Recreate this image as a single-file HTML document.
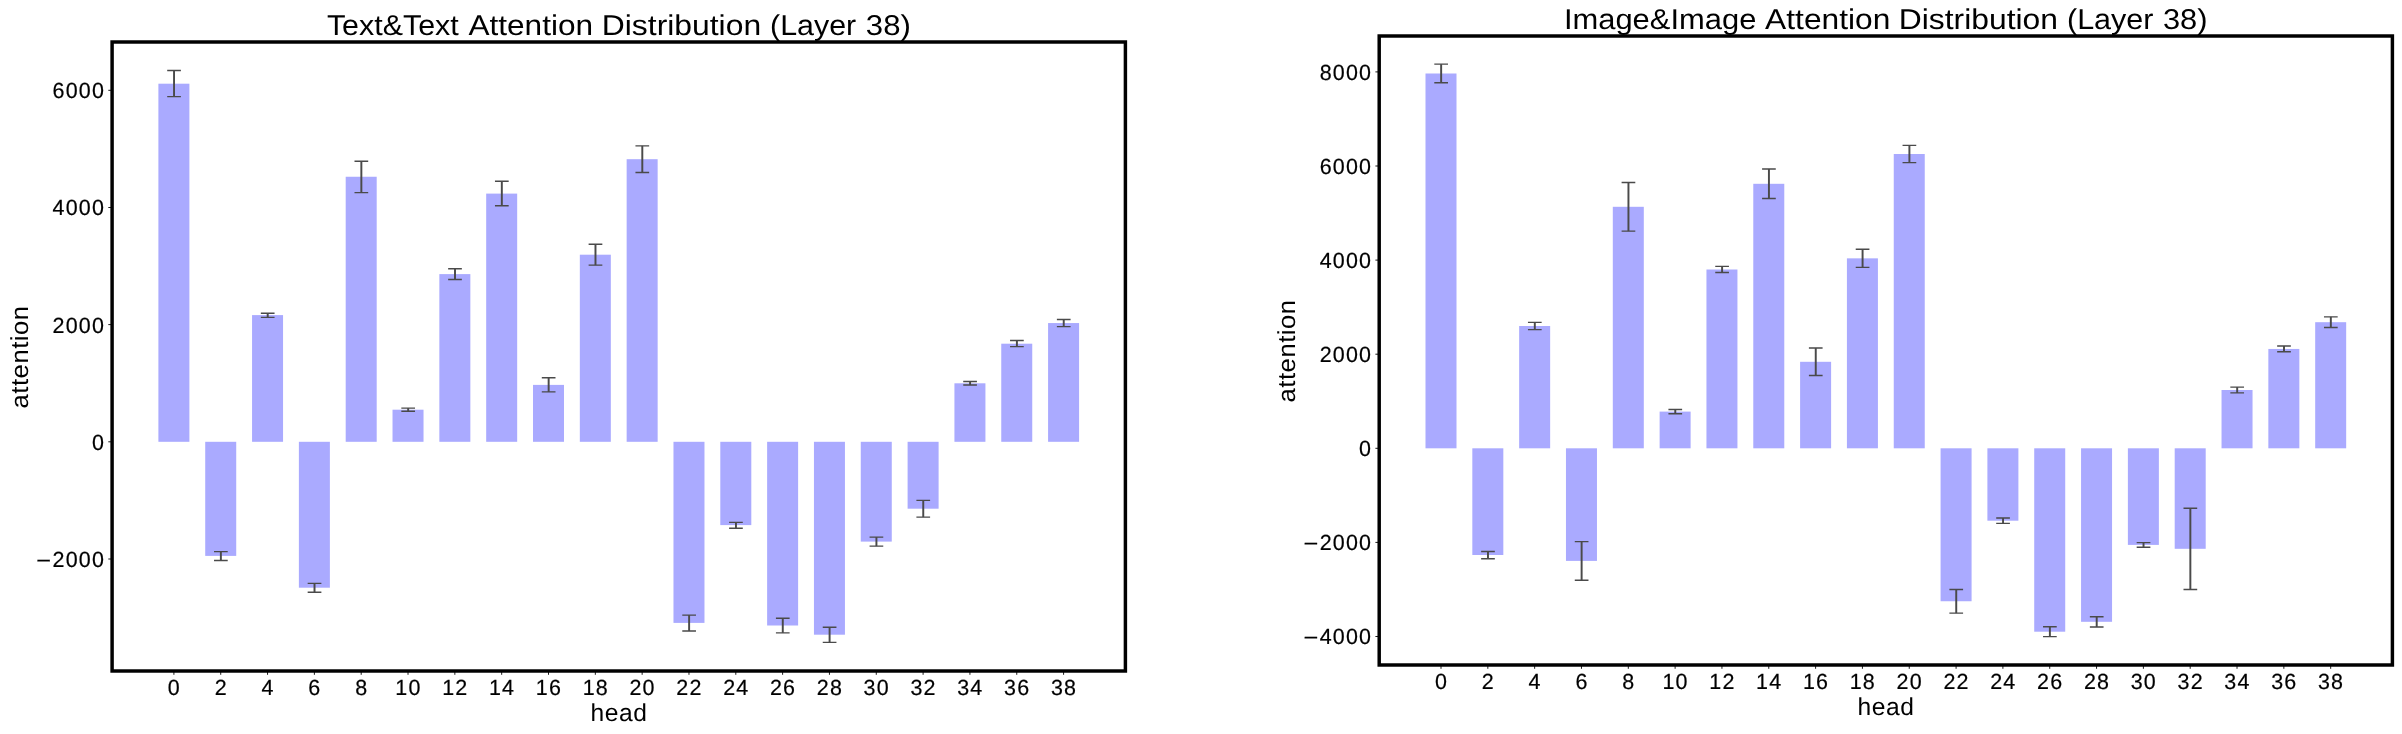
<!DOCTYPE html>
<html lang="en">
<head>
<meta charset="utf-8">
<title>Attention Distribution (Layer 38)</title>
<style>
html,body{margin:0;padding:0;background:#fff;}
body{width:2402px;height:734px;overflow:hidden;}
svg{display:block;will-change:transform;}
text{font-family:"Liberation Sans",sans-serif;fill:#000;text-rendering:geometricPrecision;}
.dg text{stroke:#000;stroke-width:0.2px;}
.bar{fill:#aaaaff;}
.el{stroke:#4a4a4a;stroke-width:1.95;fill:none;}
.cap{stroke:#4a4a4a;stroke-width:1.39;fill:none;}
.frame{fill:none;stroke:#000;stroke-width:3.47;stroke-linejoin:miter;}
.tick{stroke:#000;stroke-width:0.9;}
</style>
</head>
<body>
<svg width="2402" height="734" viewBox="0 0 2402 734">
<rect x="0" y="0" width="2402" height="734" fill="#ffffff"/>
<g id="plot0">
<rect class="bar" x="158.4" y="83.7" width="31" height="358.1"/>
<rect class="bar" x="205.22" y="441.8" width="31" height="114.1"/>
<rect class="bar" x="252.05" y="315.1" width="31" height="126.7"/>
<rect class="bar" x="298.88" y="441.8" width="31" height="145.9"/>
<rect class="bar" x="345.7" y="176.75" width="31" height="265.05"/>
<rect class="bar" x="392.52" y="409.7" width="31" height="32.1"/>
<rect class="bar" x="439.35" y="274.1" width="31" height="167.7"/>
<rect class="bar" x="486.18" y="193.6" width="31" height="248.2"/>
<rect class="bar" x="533" y="384.9" width="31" height="56.9"/>
<rect class="bar" x="579.83" y="254.7" width="31" height="187.1"/>
<rect class="bar" x="626.65" y="159.2" width="31" height="282.6"/>
<rect class="bar" x="673.48" y="441.8" width="31" height="181.1"/>
<rect class="bar" x="720.3" y="441.8" width="31" height="83.3"/>
<rect class="bar" x="767.12" y="441.8" width="31" height="183.7"/>
<rect class="bar" x="813.95" y="441.8" width="31" height="192.9"/>
<rect class="bar" x="860.77" y="441.8" width="31" height="99.8"/>
<rect class="bar" x="907.6" y="441.8" width="31" height="66.9"/>
<rect class="bar" x="954.43" y="383.3" width="31" height="58.5"/>
<rect class="bar" x="1001.25" y="343.7" width="31" height="98.1"/>
<rect class="bar" x="1048.08" y="323.05" width="31" height="118.75"/>
<path class="el" d="M174.05 70.5V96.6"/><path class="cap" d="M167.2 70.5H180.9M167.2 96.6H180.9"/>
<path class="el" d="M220.87 551.65V560.5"/><path class="cap" d="M214.02 551.65H227.72M214.02 560.5H227.72"/>
<path class="el" d="M267.7 313.3V317.4"/><path class="cap" d="M260.85 313.3H274.55M260.85 317.4H274.55"/>
<path class="el" d="M314.52 583.4V592.3"/><path class="cap" d="M307.67 583.4H321.38M307.67 592.3H321.38"/>
<path class="el" d="M361.35 161.3V192.6"/><path class="cap" d="M354.5 161.3H368.2M354.5 192.6H368.2"/>
<path class="el" d="M408.17 408.1V411.3"/><path class="cap" d="M401.32 408.1H415.02M401.32 411.3H415.02"/>
<path class="el" d="M455 268.7V279.5"/><path class="cap" d="M448.15 268.7H461.85M448.15 279.5H461.85"/>
<path class="el" d="M501.82 181.3V205.8"/><path class="cap" d="M494.97 181.3H508.68M494.97 205.8H508.68"/>
<path class="el" d="M548.65 377.7V391.9"/><path class="cap" d="M541.8 377.7H555.5M541.8 391.9H555.5"/>
<path class="el" d="M595.48 244.3V265.1"/><path class="cap" d="M588.62 244.3H602.33M588.62 265.1H602.33"/>
<path class="el" d="M642.3 145.9V172.5"/><path class="cap" d="M635.45 145.9H649.15M635.45 172.5H649.15"/>
<path class="el" d="M689.12 615.1V631"/><path class="cap" d="M682.27 615.1H695.98M682.27 631H695.98"/>
<path class="el" d="M735.95 522.4V528.2"/><path class="cap" d="M729.1 522.4H742.8M729.1 528.2H742.8"/>
<path class="el" d="M782.77 618.2V632.9"/><path class="cap" d="M775.92 618.2H789.62M775.92 632.9H789.62"/>
<path class="el" d="M829.6 627.2V642.4"/><path class="cap" d="M822.75 627.2H836.45M822.75 642.4H836.45"/>
<path class="el" d="M876.42 537.1V546.1"/><path class="cap" d="M869.57 537.1H883.27M869.57 546.1H883.27"/>
<path class="el" d="M923.25 500.4V517.1"/><path class="cap" d="M916.4 500.4H930.1M916.4 517.1H930.1"/>
<path class="el" d="M970.08 381.5V385"/><path class="cap" d="M963.23 381.5H976.93M963.23 385H976.93"/>
<path class="el" d="M1016.9 340.5V346.65"/><path class="cap" d="M1010.05 340.5H1023.75M1010.05 346.65H1023.75"/>
<path class="el" d="M1063.73 319.5V326.6"/><path class="cap" d="M1056.88 319.5H1070.58M1056.88 326.6H1070.58"/>
<path class="tick" d="M173.9 671v3.8"/><path class="tick" d="M220.72 671v3.8"/><path class="tick" d="M267.55 671v3.8"/><path class="tick" d="M314.38 671v3.8"/><path class="tick" d="M361.2 671v3.8"/><path class="tick" d="M408.02 671v3.8"/><path class="tick" d="M454.85 671v3.8"/><path class="tick" d="M501.68 671v3.8"/><path class="tick" d="M548.5 671v3.8"/><path class="tick" d="M595.33 671v3.8"/><path class="tick" d="M642.15 671v3.8"/><path class="tick" d="M688.98 671v3.8"/><path class="tick" d="M735.8 671v3.8"/><path class="tick" d="M782.62 671v3.8"/><path class="tick" d="M829.45 671v3.8"/><path class="tick" d="M876.27 671v3.8"/><path class="tick" d="M923.1 671v3.8"/><path class="tick" d="M969.93 671v3.8"/><path class="tick" d="M1016.75 671v3.8"/><path class="tick" d="M1063.58 671v3.8"/>
<path class="tick" d="M112.1 90.3h-3.8"/><path class="tick" d="M112.1 207.5h-3.8"/><path class="tick" d="M112.1 324.6h-3.8"/><path class="tick" d="M112.1 441.8h-3.8"/><path class="tick" d="M112.1 559h-3.8"/>
<rect class="frame" x="112.1" y="42" width="1013.3" height="629"/>
</g>
<g id="plot1">
<rect class="bar" x="1425.5" y="73.5" width="31" height="374.8"/>
<rect class="bar" x="1472.33" y="448.3" width="31" height="106.7"/>
<rect class="bar" x="1519.15" y="326" width="31" height="122.3"/>
<rect class="bar" x="1565.97" y="448.3" width="31" height="112.6"/>
<rect class="bar" x="1612.8" y="206.8" width="31" height="241.5"/>
<rect class="bar" x="1659.62" y="411.6" width="31" height="36.7"/>
<rect class="bar" x="1706.45" y="269.5" width="31" height="178.8"/>
<rect class="bar" x="1753.28" y="183.8" width="31" height="264.5"/>
<rect class="bar" x="1800.1" y="361.8" width="31" height="86.5"/>
<rect class="bar" x="1846.92" y="258.35" width="31" height="189.95"/>
<rect class="bar" x="1893.75" y="154" width="31" height="294.3"/>
<rect class="bar" x="1940.58" y="448.3" width="31" height="152.95"/>
<rect class="bar" x="1987.4" y="448.3" width="31" height="72.4"/>
<rect class="bar" x="2034.22" y="448.3" width="31" height="183.4"/>
<rect class="bar" x="2081.05" y="448.3" width="31" height="173.5"/>
<rect class="bar" x="2127.88" y="448.3" width="31" height="96.6"/>
<rect class="bar" x="2174.7" y="448.3" width="31" height="100.5"/>
<rect class="bar" x="2221.53" y="390" width="31" height="58.3"/>
<rect class="bar" x="2268.35" y="348.95" width="31" height="99.35"/>
<rect class="bar" x="2315.18" y="322.2" width="31" height="126.1"/>
<path class="el" d="M1441.15 64.15V82.7"/><path class="cap" d="M1434.3 64.15H1448M1434.3 82.7H1448"/>
<path class="el" d="M1487.98 551.5V558.7"/><path class="cap" d="M1481.13 551.5H1494.83M1481.13 558.7H1494.83"/>
<path class="el" d="M1534.8 322.4V329.6"/><path class="cap" d="M1527.95 322.4H1541.65M1527.95 329.6H1541.65"/>
<path class="el" d="M1581.62 541.65V580.3"/><path class="cap" d="M1574.78 541.65H1588.47M1574.78 580.3H1588.47"/>
<path class="el" d="M1628.45 182.45V231.1"/><path class="cap" d="M1621.6 182.45H1635.3M1621.6 231.1H1635.3"/>
<path class="el" d="M1675.28 409.5V413.7"/><path class="cap" d="M1668.43 409.5H1682.12M1668.43 413.7H1682.12"/>
<path class="el" d="M1722.1 266.35V272.55"/><path class="cap" d="M1715.25 266.35H1728.95M1715.25 272.55H1728.95"/>
<path class="el" d="M1768.93 169V198.5"/><path class="cap" d="M1762.08 169H1775.78M1762.08 198.5H1775.78"/>
<path class="el" d="M1815.75 348.05V375.5"/><path class="cap" d="M1808.9 348.05H1822.6M1808.9 375.5H1822.6"/>
<path class="el" d="M1862.58 249.3V267.35"/><path class="cap" d="M1855.73 249.3H1869.42M1855.73 267.35H1869.42"/>
<path class="el" d="M1909.4 145.4V162.65"/><path class="cap" d="M1902.55 145.4H1916.25M1902.55 162.65H1916.25"/>
<path class="el" d="M1956.23 589.5V613.1"/><path class="cap" d="M1949.38 589.5H1963.08M1949.38 613.1H1963.08"/>
<path class="el" d="M2003.05 518V523.4"/><path class="cap" d="M1996.2 518H2009.9M1996.2 523.4H2009.9"/>
<path class="el" d="M2049.88 626.8V636.6"/><path class="cap" d="M2043.03 626.8H2056.72M2043.03 636.6H2056.72"/>
<path class="el" d="M2096.7 616.75V626.95"/><path class="cap" d="M2089.85 616.75H2103.55M2089.85 626.95H2103.55"/>
<path class="el" d="M2143.53 542.65V547.25"/><path class="cap" d="M2136.68 542.65H2150.38M2136.68 547.25H2150.38"/>
<path class="el" d="M2190.35 508.2V589.5"/><path class="cap" d="M2183.5 508.2H2197.2M2183.5 589.5H2197.2"/>
<path class="el" d="M2237.18 387.1V392.9"/><path class="cap" d="M2230.33 387.1H2244.03M2230.33 392.9H2244.03"/>
<path class="el" d="M2284 346V351.8"/><path class="cap" d="M2277.15 346H2290.85M2277.15 351.8H2290.85"/>
<path class="el" d="M2330.83 316.85V327.5"/><path class="cap" d="M2323.98 316.85H2337.68M2323.98 327.5H2337.68"/>
<path class="tick" d="M1441 665v3.8"/><path class="tick" d="M1487.83 665v3.8"/><path class="tick" d="M1534.65 665v3.8"/><path class="tick" d="M1581.47 665v3.8"/><path class="tick" d="M1628.3 665v3.8"/><path class="tick" d="M1675.12 665v3.8"/><path class="tick" d="M1721.95 665v3.8"/><path class="tick" d="M1768.78 665v3.8"/><path class="tick" d="M1815.6 665v3.8"/><path class="tick" d="M1862.42 665v3.8"/><path class="tick" d="M1909.25 665v3.8"/><path class="tick" d="M1956.08 665v3.8"/><path class="tick" d="M2002.9 665v3.8"/><path class="tick" d="M2049.72 665v3.8"/><path class="tick" d="M2096.55 665v3.8"/><path class="tick" d="M2143.38 665v3.8"/><path class="tick" d="M2190.2 665v3.8"/><path class="tick" d="M2237.03 665v3.8"/><path class="tick" d="M2283.85 665v3.8"/><path class="tick" d="M2330.68 665v3.8"/>
<path class="tick" d="M1379.2 71.9h-3.8"/><path class="tick" d="M1379.2 166h-3.8"/><path class="tick" d="M1379.2 260.1h-3.8"/><path class="tick" d="M1379.2 354.2h-3.8"/><path class="tick" d="M1379.2 448.3h-3.8"/><path class="tick" d="M1379.2 542.4h-3.8"/><path class="tick" d="M1379.2 636.5h-3.8"/>
<rect class="frame" x="1379.2" y="36" width="1013.2" height="629"/>
</g>
<g id="labels">
<g id="xt0" class="dg">
<text transform="translate(167.86 694.55) scale(0.98 1)" font-size="21.9" letter-spacing="1.19">0</text>
<text transform="translate(214.68 694.55) scale(0.98 1)" font-size="21.9" letter-spacing="1.19">2</text>
<text transform="translate(261.51 694.55) scale(0.98 1)" font-size="21.9" letter-spacing="1.19">4</text>
<text transform="translate(308.33 694.55) scale(0.98 1)" font-size="21.9" letter-spacing="1.19">6</text>
<text transform="translate(355.16 694.55) scale(0.98 1)" font-size="21.9" letter-spacing="1.19">8</text>
<text transform="translate(395.36 694.55) scale(0.98 1)" font-size="21.9" letter-spacing="1.19">10</text>
<text transform="translate(442.18 694.55) scale(0.98 1)" font-size="21.9" letter-spacing="1.19">12</text>
<text transform="translate(489.01 694.55) scale(0.98 1)" font-size="21.9" letter-spacing="1.19">14</text>
<text transform="translate(535.83 694.55) scale(0.98 1)" font-size="21.9" letter-spacing="1.19">16</text>
<text transform="translate(582.66 694.55) scale(0.98 1)" font-size="21.9" letter-spacing="1.19">18</text>
<text transform="translate(629.48 694.55) scale(0.98 1)" font-size="21.9" letter-spacing="1.19">20</text>
<text transform="translate(676.31 694.55) scale(0.98 1)" font-size="21.9" letter-spacing="1.19">22</text>
<text transform="translate(723.13 694.55) scale(0.98 1)" font-size="21.9" letter-spacing="1.19">24</text>
<text transform="translate(769.96 694.55) scale(0.98 1)" font-size="21.9" letter-spacing="1.19">26</text>
<text transform="translate(816.78 694.55) scale(0.98 1)" font-size="21.9" letter-spacing="1.19">28</text>
<text transform="translate(863.61 694.55) scale(0.98 1)" font-size="21.9" letter-spacing="1.19">30</text>
<text transform="translate(910.43 694.55) scale(0.98 1)" font-size="21.9" letter-spacing="1.19">32</text>
<text transform="translate(957.26 694.55) scale(0.98 1)" font-size="21.9" letter-spacing="1.19">34</text>
<text transform="translate(1004.08 694.55) scale(0.98 1)" font-size="21.9" letter-spacing="1.19">36</text>
<text transform="translate(1050.91 694.55) scale(0.98 1)" font-size="21.9" letter-spacing="1.19">38</text>
</g>
<g id="yt0" class="dg">
<text transform="translate(52.59 98.2) scale(0.98 1)" font-size="21.9" letter-spacing="1.19">6000</text>
<text transform="translate(52.59 215.4) scale(0.98 1)" font-size="21.9" letter-spacing="1.19">4000</text>
<text transform="translate(52.59 332.5) scale(0.98 1)" font-size="21.9" letter-spacing="1.19">2000</text>
<text transform="translate(91.89 449.7) scale(0.98 1)" font-size="21.9" letter-spacing="1.19">0</text>
<text transform="translate(52.59 566.9) scale(0.98 1)" font-size="21.9" letter-spacing="1.19">2000</text>
<text transform="translate(36.35 567.7) scale(1.1555 1)" font-size="21.9">−</text>
</g>
<g id="xl0">
<text transform="translate(590.43 720.6)" font-size="24.6" letter-spacing="0.6">head</text>
</g>
<g id="yl0">
<text transform="translate(27.9 408.43) rotate(-90) scale(1.045 1)" font-size="24.6" letter-spacing="0.47">attention</text>
</g>
<g id="xt1" class="dg">
<text transform="translate(1434.96 688.55) scale(0.98 1)" font-size="21.9" letter-spacing="1.19">0</text>
<text transform="translate(1481.78 688.55) scale(0.98 1)" font-size="21.9" letter-spacing="1.19">2</text>
<text transform="translate(1528.61 688.55) scale(0.98 1)" font-size="21.9" letter-spacing="1.19">4</text>
<text transform="translate(1575.43 688.55) scale(0.98 1)" font-size="21.9" letter-spacing="1.19">6</text>
<text transform="translate(1622.26 688.55) scale(0.98 1)" font-size="21.9" letter-spacing="1.19">8</text>
<text transform="translate(1662.46 688.55) scale(0.98 1)" font-size="21.9" letter-spacing="1.19">10</text>
<text transform="translate(1709.28 688.55) scale(0.98 1)" font-size="21.9" letter-spacing="1.19">12</text>
<text transform="translate(1756.11 688.55) scale(0.98 1)" font-size="21.9" letter-spacing="1.19">14</text>
<text transform="translate(1802.93 688.55) scale(0.98 1)" font-size="21.9" letter-spacing="1.19">16</text>
<text transform="translate(1849.76 688.55) scale(0.98 1)" font-size="21.9" letter-spacing="1.19">18</text>
<text transform="translate(1896.58 688.55) scale(0.98 1)" font-size="21.9" letter-spacing="1.19">20</text>
<text transform="translate(1943.41 688.55) scale(0.98 1)" font-size="21.9" letter-spacing="1.19">22</text>
<text transform="translate(1990.23 688.55) scale(0.98 1)" font-size="21.9" letter-spacing="1.19">24</text>
<text transform="translate(2037.06 688.55) scale(0.98 1)" font-size="21.9" letter-spacing="1.19">26</text>
<text transform="translate(2083.88 688.55) scale(0.98 1)" font-size="21.9" letter-spacing="1.19">28</text>
<text transform="translate(2130.71 688.55) scale(0.98 1)" font-size="21.9" letter-spacing="1.19">30</text>
<text transform="translate(2177.53 688.55) scale(0.98 1)" font-size="21.9" letter-spacing="1.19">32</text>
<text transform="translate(2224.36 688.55) scale(0.98 1)" font-size="21.9" letter-spacing="1.19">34</text>
<text transform="translate(2271.18 688.55) scale(0.98 1)" font-size="21.9" letter-spacing="1.19">36</text>
<text transform="translate(2318.01 688.55) scale(0.98 1)" font-size="21.9" letter-spacing="1.19">38</text>
</g>
<g id="yt1" class="dg">
<text transform="translate(1319.69 79.8) scale(0.98 1)" font-size="21.9" letter-spacing="1.19">8000</text>
<text transform="translate(1319.69 173.9) scale(0.98 1)" font-size="21.9" letter-spacing="1.19">6000</text>
<text transform="translate(1319.69 268) scale(0.98 1)" font-size="21.9" letter-spacing="1.19">4000</text>
<text transform="translate(1319.69 362.1) scale(0.98 1)" font-size="21.9" letter-spacing="1.19">2000</text>
<text transform="translate(1358.99 456.2) scale(0.98 1)" font-size="21.9" letter-spacing="1.19">0</text>
<text transform="translate(1319.69 550.3) scale(0.98 1)" font-size="21.9" letter-spacing="1.19">2000</text>
<text transform="translate(1303.45 551.1) scale(1.1555 1)" font-size="21.9">−</text>
<text transform="translate(1319.69 644.4) scale(0.98 1)" font-size="21.9" letter-spacing="1.19">4000</text>
<text transform="translate(1303.45 645.2) scale(1.1555 1)" font-size="21.9">−</text>
</g>
<g id="xl1">
<text transform="translate(1857.53 714.6)" font-size="24.6" letter-spacing="0.6">head</text>
</g>
<g id="yl1">
<text transform="translate(1295 402.43) rotate(-90) scale(1.045 1)" font-size="24.6" letter-spacing="0.47">attention</text>
</g>
<g id="title0">
<text transform="translate(326.89 34.9) scale(1.0636 1)" font-size="28.6">Text&amp;Text</text>
<text transform="translate(468.4 34.9) scale(1.1048 1)" font-size="28.6">Attention</text>
<text transform="translate(601.75 34.9) scale(1.1144 1)" font-size="28.6">Distribution</text>
<text transform="translate(770.08 34.9) scale(1.0629 1)" font-size="28.6">(Layer</text>
<text transform="translate(865.86 34.9) scale(1.0881 1)" font-size="28.6">38)</text>
</g>
<g id="title1">
<text transform="translate(1563.92 29) scale(1.0808 1)" font-size="28.6">Image&amp;Image</text>
<text transform="translate(1765.1 29) scale(1.1093 1)" font-size="28.6">Attention</text>
<text transform="translate(1898.75 29) scale(1.1137 1)" font-size="28.6">Distribution</text>
<text transform="translate(2066.97 29) scale(1.0667 1)" font-size="28.6">(Layer</text>
<text transform="translate(2162.97 29) scale(1.0777 1)" font-size="28.6">38)</text>
</g>
</g>
</svg>
</body>
</html>
